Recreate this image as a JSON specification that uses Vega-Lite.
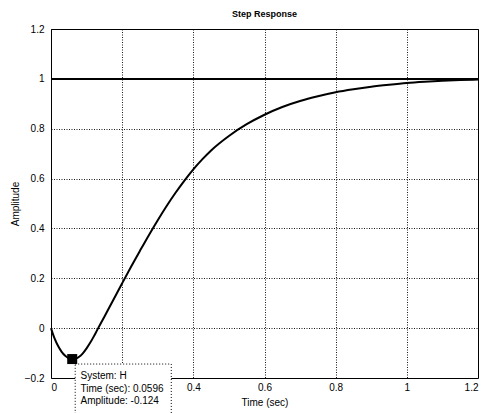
{
  "$schema": "https://vega.github.io/schema/vega-lite/v6.json",
  "width": 427,
  "height": 349,
  "autosize": {"type": "none"},
  "padding": {"left": 51, "top": 29, "right": 5, "bottom": 35},
  "background": "white",
  "config": {
    "font": "Liberation Sans",
    "view": {"stroke": "black", "strokeWidth": 1},
    "axis": {
      "grid": true,
      "gridColor": "black",
      "gridDash": [1, 1.5],
      "gridOpacity": 0.9,
      "gridWidth": 1,
      "domain": false,
      "ticks": false,
      "labelFont": "Liberation Sans",
      "labelFontSize": 10,
      "labelColor": "black",
      "titleFont": "Liberation Sans",
      "titleFontSize": 10,
      "titleFontWeight": "normal",
      "titleColor": "black"
    }
  },
  "title": {
    "text": "Step Response",
    "font": "Liberation Sans",
    "fontSize": 9,
    "fontWeight": "bold",
    "color": "black",
    "offset": 5
  },
  "datasets": {
    "curve": [
      {"t": 0, "y": 0},
      {"t": 0.005, "y": -0.022},
      {"t": 0.01, "y": -0.041},
      {"t": 0.02, "y": -0.072},
      {"t": 0.03, "y": -0.095},
      {"t": 0.04, "y": -0.111},
      {"t": 0.05, "y": -0.121},
      {"t": 0.0596, "y": -0.124},
      {"t": 0.07, "y": -0.122},
      {"t": 0.08, "y": -0.114},
      {"t": 0.09, "y": -0.1},
      {"t": 0.1, "y": -0.081},
      {"t": 0.11, "y": -0.059},
      {"t": 0.12, "y": -0.034},
      {"t": 0.13, "y": -0.007},
      {"t": 0.14, "y": 0.02},
      {"t": 0.15, "y": 0.046},
      {"t": 0.16, "y": 0.073},
      {"t": 0.175, "y": 0.113},
      {"t": 0.2, "y": 0.18},
      {"t": 0.225, "y": 0.246},
      {"t": 0.25, "y": 0.31},
      {"t": 0.275, "y": 0.373},
      {"t": 0.3, "y": 0.433},
      {"t": 0.325, "y": 0.49},
      {"t": 0.35, "y": 0.543},
      {"t": 0.375, "y": 0.592},
      {"t": 0.4, "y": 0.637},
      {"t": 0.425, "y": 0.677},
      {"t": 0.45, "y": 0.713},
      {"t": 0.5, "y": 0.771},
      {"t": 0.55, "y": 0.818},
      {"t": 0.6, "y": 0.856},
      {"t": 0.65, "y": 0.887},
      {"t": 0.7, "y": 0.911},
      {"t": 0.75, "y": 0.93},
      {"t": 0.8, "y": 0.946},
      {"t": 0.85, "y": 0.958},
      {"t": 0.9, "y": 0.968},
      {"t": 0.95, "y": 0.976},
      {"t": 1.0, "y": 0.983},
      {"t": 1.05, "y": 0.988},
      {"t": 1.1, "y": 0.992},
      {"t": 1.15, "y": 0.995},
      {"t": 1.2, "y": 0.997}
    ],
    "tip": [{"t": 0.0596, "y": -0.124}],
    "box": [{"x1": 0.068, "x2": 0.338, "y1": -0.144, "y2": -0.4}],
    "tiptext": [
      {"x": 0.083, "y": -0.193, "label": "System: H"},
      {"x": 0.083, "y": -0.243, "label": "Time (sec): 0.0596"},
      {"x": 0.083, "y": -0.292, "label": "Amplitude: -0.124"}
    ]
  },
  "layer": [
    {
      "data": {"name": "curve"},
      "mark": {"type": "rule", "color": "black", "strokeWidth": 1.5},
      "encoding": {
        "y": {"datum": 1, "type": "quantitative",
          "scale": {"domain": [-0.2, 1.2], "nice": false, "zero": false},
          "axis": {"title": "Amplitude", "values": [-0.2, 0, 0.2, 0.4, 0.6, 0.8, 1, 1.2], "format": "~g", "labelPadding": 7, "titlePadding": 4}
        }
      }
    },
    {
      "data": {"name": "curve"},
      "mark": {"type": "line", "color": "black", "strokeWidth": 2, "interpolate": "monotone"},
      "encoding": {
        "x": {"field": "t", "type": "quantitative",
          "scale": {"domain": [0, 1.2], "nice": false},
          "axis": {"title": "Time (sec)", "values": [0, 0.2, 0.4, 0.6, 0.8, 1, 1.2], "labelExpr": "datum.value == 0.2 ? '' : format(datum.value, '~g')", "labelPadding": 4, "titlePadding": 5}
        },
        "y": {"field": "y", "type": "quantitative", "title": "Amplitude"}
      }
    },
    {
      "data": {"name": "box"},
      "mark": {"type": "rect", "fill": "white", "stroke": "black", "strokeDash": [1, 2], "strokeWidth": 1, "clip": false},
      "encoding": {
        "x": {"field": "x1", "type": "quantitative"},
        "x2": {"field": "x2"},
        "y": {"field": "y1", "type": "quantitative"},
        "y2": {"field": "y2"}
      }
    },
    {
      "data": {"name": "tip"},
      "mark": {"type": "point", "shape": "square", "filled": true, "color": "black", "size": 100, "opacity": 1},
      "encoding": {
        "x": {"field": "t", "type": "quantitative"},
        "y": {"field": "y", "type": "quantitative"}
      }
    },
    {
      "data": {"name": "tiptext"},
      "mark": {"type": "text", "align": "left", "baseline": "middle", "font": "Liberation Sans", "fontSize": 10, "color": "black", "clip": false},
      "encoding": {
        "x": {"field": "x", "type": "quantitative"},
        "y": {"field": "y", "type": "quantitative"},
        "text": {"field": "label"}
      }
    }
  ]
}
